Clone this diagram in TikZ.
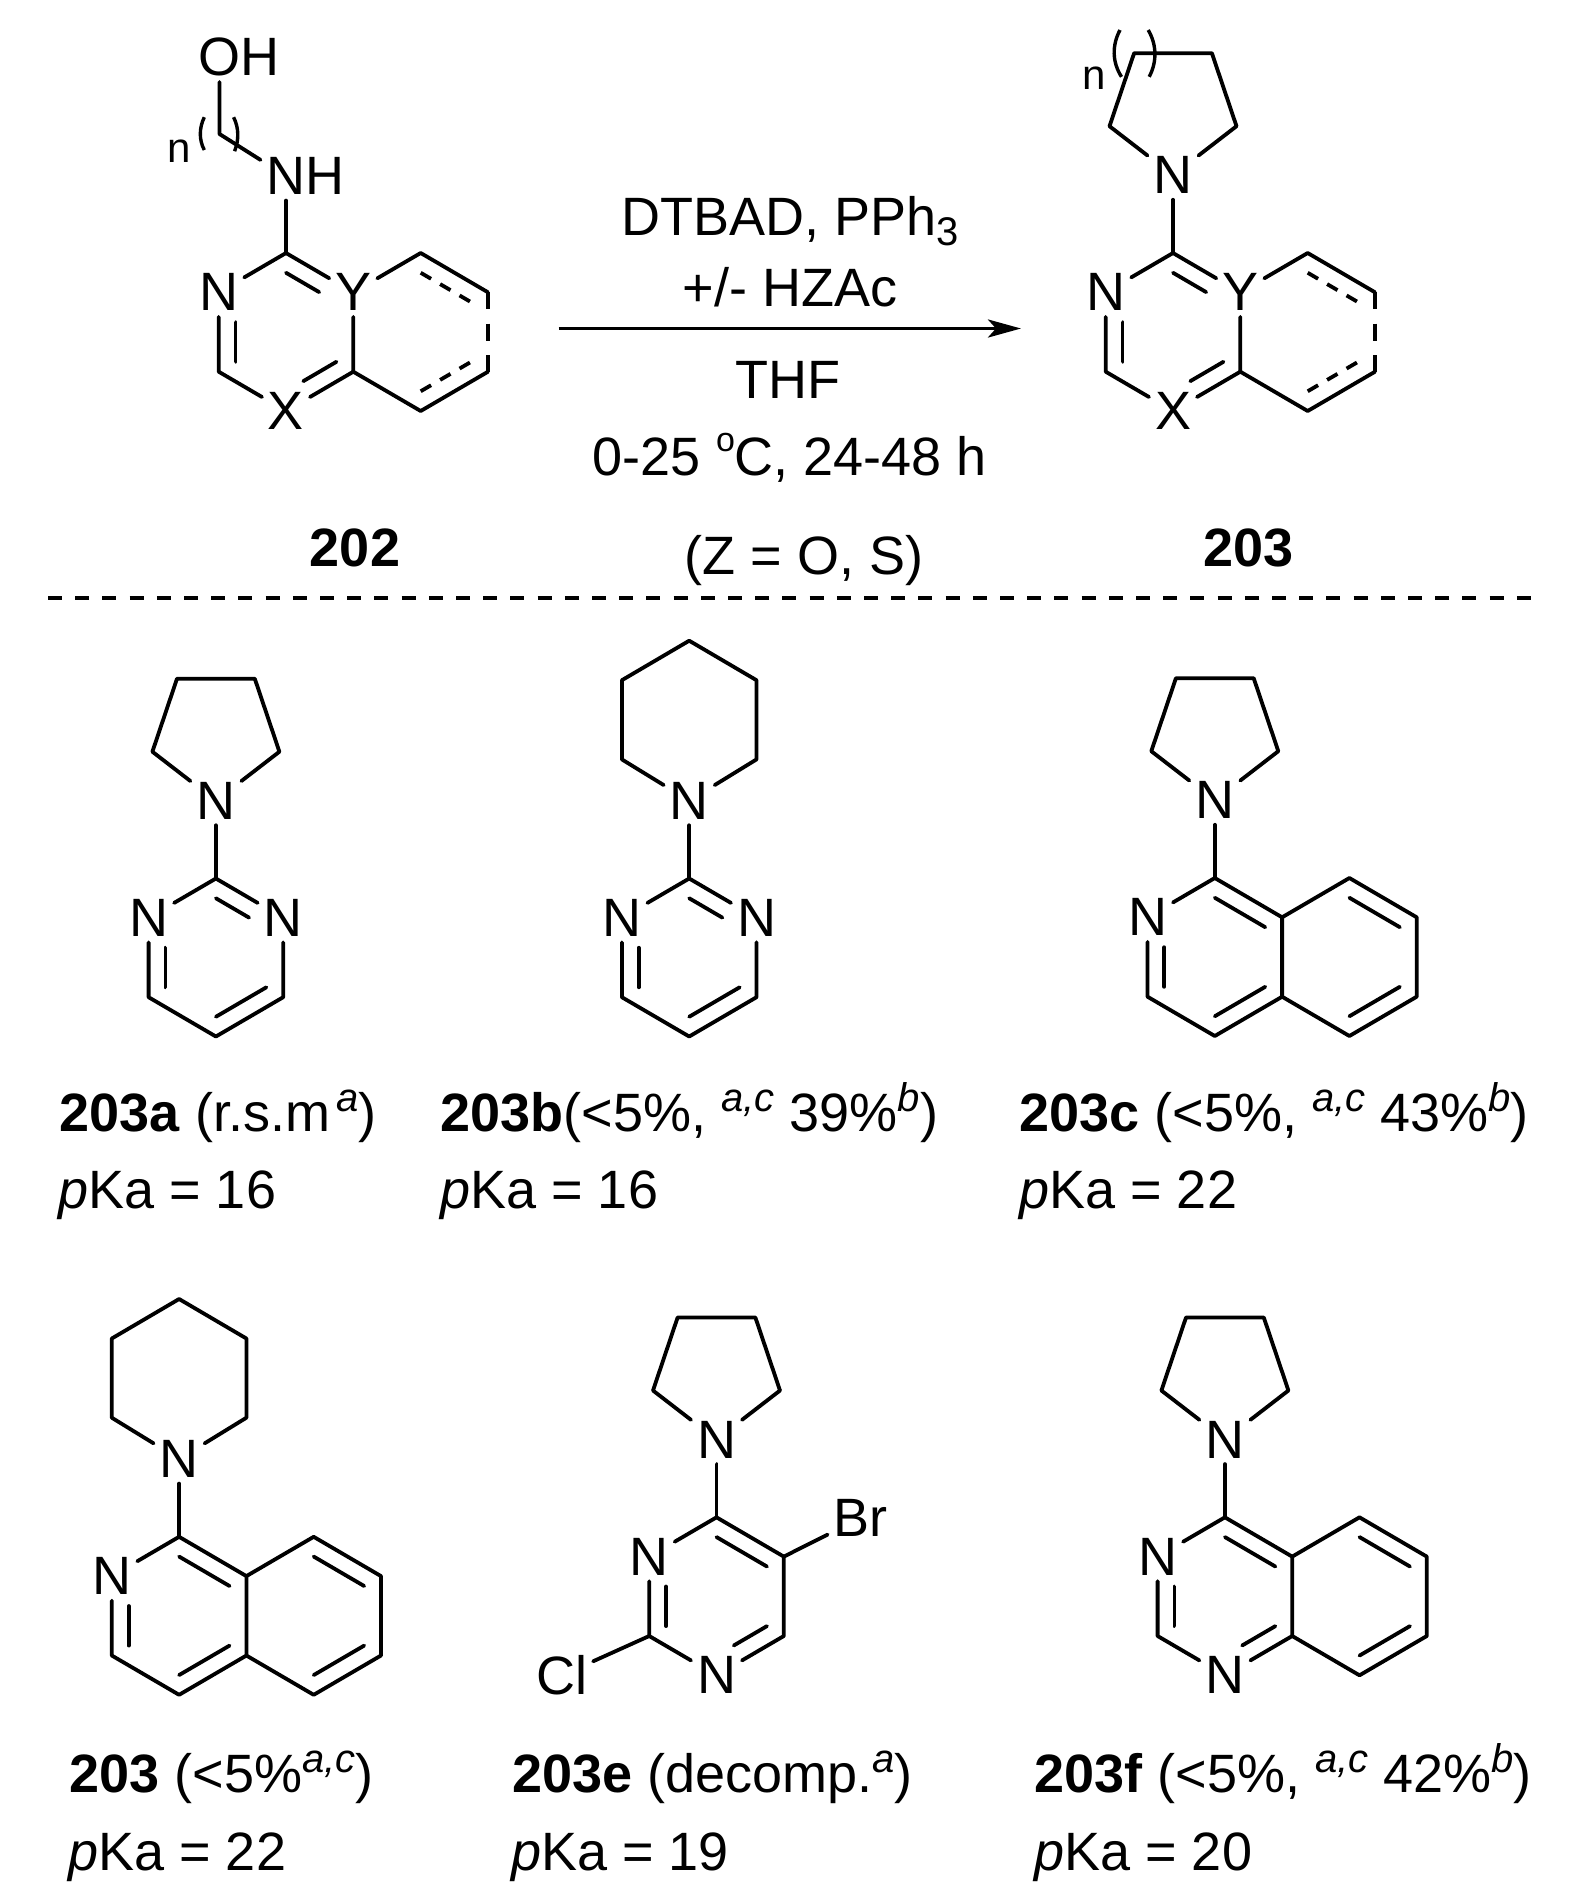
\documentclass[tikz,border=0pt]{standalone}
\usepackage{fontspec}
\setmainfont{Liberation Sans}
\usetikzlibrary{positioning,calc,arrows.meta}

\newcommand{\sups}[1]{\raisebox{10pt}{\fontsize{20}{20}\selectfont\itshape #1}}
\newcommand{\hexat}[3]{
  \coordinate (#1m) at (#2,#3);
  \coordinate (#11) at ($(#1m)+(0,-79)$);
  \coordinate (#12) at ($(#1m)+(67.3,-39.7)$);
  \coordinate (#13) at ($(#1m)+(67.3,39.7)$);
  \coordinate (#14) at ($(#1m)+(0,79)$);
  \coordinate (#15) at ($(#1m)+(-67.3,39.7)$);
  \coordinate (#16) at ($(#1m)+(-67.3,-39.7)$);
}
\newcommand{\dbl}[4][]{\draw[bond,#1] ($(#2m)!.75!(#2#3)$) -- ($(#2m)!.75!(#2#4)$);}
\newcommand{\subN}[1]{
  \node[atom] (#1N) at ($(#11)+(0,-77.8)$) {N};
  \draw[bond] (#11) -- (#1N);
}
\newcommand{\pyrrolidine}[1]{
  \draw[bond] (#1) -- ($(#1)+(63.5,-49)$) -- ($(#1)+(38.9,-122)$) -- ($(#1)+(-38.9,-122)$) -- ($(#1)+(-63.5,-49)$) -- (#1);
}
\newcommand{\piperidine}[1]{
  \draw[bond] (#1) -- ($(#1)+(67.3,-41.3)$) -- ($(#1)+(67.3,-120.5)$) -- ($(#1)+(0,-160)$) -- ($(#1)+(-67.3,-120.5)$) -- ($(#1)+(-67.3,-41.3)$) -- (#1);
}
\newcommand{\pyrimidine}[3]{
  \hexat{#1}{#2}{#3}
  \node[atom] (#1n) at (#16) {N};
  \node[atom] (#1o) at (#12) {N};
  \subN{#1}
  \draw[bond] (#1n) -- (#11) -- (#1o) -- (#13) -- (#14) -- (#15) -- (#1n);
  \dbl[shorten >=10pt]{#1}{1}{2}
  \dbl[shorten <=10pt]{#1}{6}{5}
  \dbl{#1}{4}{3}
}
\newcommand{\isoquinoline}[3]{
  \hexat{#1}{#2}{#3}
  \hexat{#1b}{#2+134.6}{#3}
  \node[atom] (#1n) at (#16) {N};
  \subN{#1}
  \draw[bond] (#1n) -- (#11) -- (#12) -- (#13) -- (#14) -- (#15) -- (#1n);
  \draw[bond] (#12) -- (#1b1) -- (#1b2) -- (#1b3) -- (#1b4) -- (#13);
  \dbl{#1}{1}{2}
  \dbl[shorten <=10pt]{#1}{6}{5}
  \dbl{#1}{4}{3}
  \dbl{#1b}{1}{2}
  \dbl{#1b}{4}{3}
}
\newcommand{\scaffold}[3]{
  \hexat{#1}{#2}{#3}
  \hexat{#1b}{#2+134.7}{#3}
  \node[atom] (#1n) at (#16) {N};
  \node[atom] (#1y) at (#12) {Y};
  \node[atom] (#1x) at (#14) {X};
  \draw[bond] (#1n) -- (#11) -- (#1y) -- (#13) -- (#1x) -- (#15) -- (#1n);
  \draw[bond] (#1y) -- (#1b1) -- (#1b2);
  \draw[bond] (#1b3) -- (#1b4) -- (#13);
  \draw[bond,ringdash] (#1b2) -- (#1b3);
  \dbl[shorten >=10pt]{#1}{1}{2}
  \dbl[shorten <=10pt]{#1}{6}{5}
  \dbl[shorten <=10pt]{#1}{4}{3}
  \dbl[innerdash]{#1b}{1}{2}
  \dbl[innerdash]{#1b}{4}{3}
}

\tikzset{
  atom/.style={inner sep=0pt,outer sep=3pt,font=\fontsize{27}{32}\selectfont},
  small atom/.style={inner sep=0pt,outer sep=3pt,font=\fontsize{21}{24}\selectfont},
  bond/.style={line width=1.9pt,line cap=round,line join=round},
  innerdash/.style={line cap=butt,dash pattern=on 6pt off 5.25pt},
  ringdash/.style={line cap=butt,dash pattern=on 8.5pt off 7.2pt},
  paren/.style={line width=1.7pt},
  cmpd/.style={anchor=base west,inner sep=0pt,font=\fontsize{27}{32}\selectfont},
  reagent/.style={anchor=base,inner sep=0pt,font=\fontsize{27}{32}\selectfont}
}

\begin{document}
\begin{tikzpicture}[x=0.5pt,y=-0.5pt]
  \useasboundingbox (0,0) rectangle (1582,1897);

  \scaffold{p}{286}{332}
  \node[atom] (pNH) at ($(p1)+(0,-77)$) {N};
  \node[atom] (pH) [right=-6pt of pNH] {H};
  \coordinate (chain) at (219.5,134);
  \node[atom] (oO) at (219.5,57) {O};
  \node[atom] (oH) [right=-6pt of oO] {H};
  \draw[bond] (p1) -- (pNH);
  \draw[bond] (pNH) -- (chain) -- (oO);
  \draw[paren] (204.3,117.2) .. controls (199,128) and (199,140) .. (204.3,150);
  \draw[paren] (233.6,117.2) .. controls (239,128) and (239,140) .. (234.6,151.2);
  \node[small atom] (pn) at (179,151.2) {n};

  \scaffold{q}{1173}{332}
  \subN{q}
  \pyrrolidine{qN}
  \draw[paren] (1120,30) .. controls (1112,45) and (1112,62) .. (1121.5,76.8);
  \draw[paren] (1148.2,30) .. controls (1157,45) and (1157,62) .. (1149.2,76.8);
  \node[small atom] (qn) at (1093.7,78) {n};

  \coordinate (arrowl) at (558.5,328.5);
  \coordinate (arrowr) at (1021,328.5);
  \draw[line width=1.9pt,-{Stealth[length=16.5pt,width=9pt,inset=4pt]}] (arrowl) -- (arrowr);

  \node[reagent] (r1) at (790,235.5) {DTBAD, PPh\raisebox{-5pt}{\fontsize{20}{20}\selectfont 3}};
  \node[reagent] (r2) at (790,306.5) {+/- HZAc};
  \node[reagent] (r3) at (788,398.5) {THF};
  \node[reagent] (r4) at (790,475) {0-25 \raisebox{12pt}{\fontsize{17}{17}\selectfont o}C, 24-48 h};
  \node[reagent] (r5) at (804,574) {(Z = O, S)};
  \node[reagent] (n202) at (355,566) {\textbf{202}};
  \node[reagent] (n203) at (1248.6,566) {\textbf{203}};

  \coordinate (sepl) at (48,598);
  \coordinate (sepr) at (1531.5,598);
  \draw[line width=1.7pt,dash pattern=on 7pt off 6.6pt] (sepl) -- (sepr);

  \pyrimidine{a}{215.9}{957.5}
  \pyrrolidine{aN}
  \node[cmpd] (a text) at (59.5,1131) {\textbf{203a} (r.s.m\hspace{3pt}\sups{a})};
  \node[cmpd] (a pka) at (58,1208) {\textit{p}Ka = 16};

  \pyrimidine{b}{689.2}{957.5}
  \piperidine{bN}
  \node[cmpd] (b text) at (440.5,1131) {\textbf{203b}(<5\%, \sups{a,c} 39\%\sups{b})};
  \node[cmpd] (b pka) at (440,1208) {\textit{p}Ka = 16};

  \isoquinoline{c}{1214.8}{957}
  \pyrrolidine{cN}
  \node[cmpd] (c text) at (1019,1131) {\textbf{203c} (<5\%, \sups{a,c} 43\%\sups{b})};
  \node[cmpd] (c pka) at (1019,1208) {\textit{p}Ka = 22};

  \isoquinoline{d}{179.1}{1615.8}
  \piperidine{dN}
  \node[cmpd] (d text) at (69,1792) {\textbf{203} (<5\%\sups{a,c})};
  \node[cmpd] (d pka) at (68,1870) {\textit{p}Ka = 22};

  \hexat{e}{716.5}{1596.3}
  \node[atom] (en) at (e6) {N};
  \node[atom] (eo) at (e4) {N};
  \node[atom] (eCl) at (561.6,1675.5) {Cl};
  \node[atom] (eBr) at (860.6,1518) {Br};
  \subN{e}
  \pyrrolidine{eN}
  \draw[bond] (en) -- (e1) -- (e2) -- (e3) -- (eo) -- (e5) -- (en);
  \draw[bond] (e5) -- (eCl);
  \draw[bond] (e2) -- (eBr);
  \dbl{e}{1}{2}
  \dbl[shorten <=10pt]{e}{6}{5}
  \dbl[shorten <=10pt]{e}{4}{3}
  \node[cmpd] (e text) at (512,1792) {\textbf{203e} (decomp.\sups{a})};
  \node[cmpd] (e pka) at (510.6,1870) {\textit{p}Ka = 19};

  \hexat{f}{1224.9}{1596.3}
  \hexat{fb}{1224.9+134.6}{1596.3}
  \node[atom] (fn) at (f6) {N};
  \node[atom] (fo) at (f4) {N};
  \subN{f}
  \pyrrolidine{fN}
  \draw[bond] (fn) -- (f1) -- (f2) -- (f3) -- (fo) -- (f5) -- (fn);
  \draw[bond] (f2) -- (fb1) -- (fb2) -- (fb3) -- (fb4) -- (f3);
  \dbl{f}{1}{2}
  \dbl[shorten <=10pt]{f}{6}{5}
  \dbl[shorten <=10pt]{f}{4}{3}
  \dbl{fb}{1}{2}
  \dbl{fb}{4}{3}
  \node[cmpd] (f text) at (1034,1792) {\textbf{203f} (<5\%, \sups{a,c} 42\%\sups{b})};
  \node[cmpd] (f pka) at (1034,1870) {\textit{p}Ka = 20};
\end{tikzpicture}
\end{document}
